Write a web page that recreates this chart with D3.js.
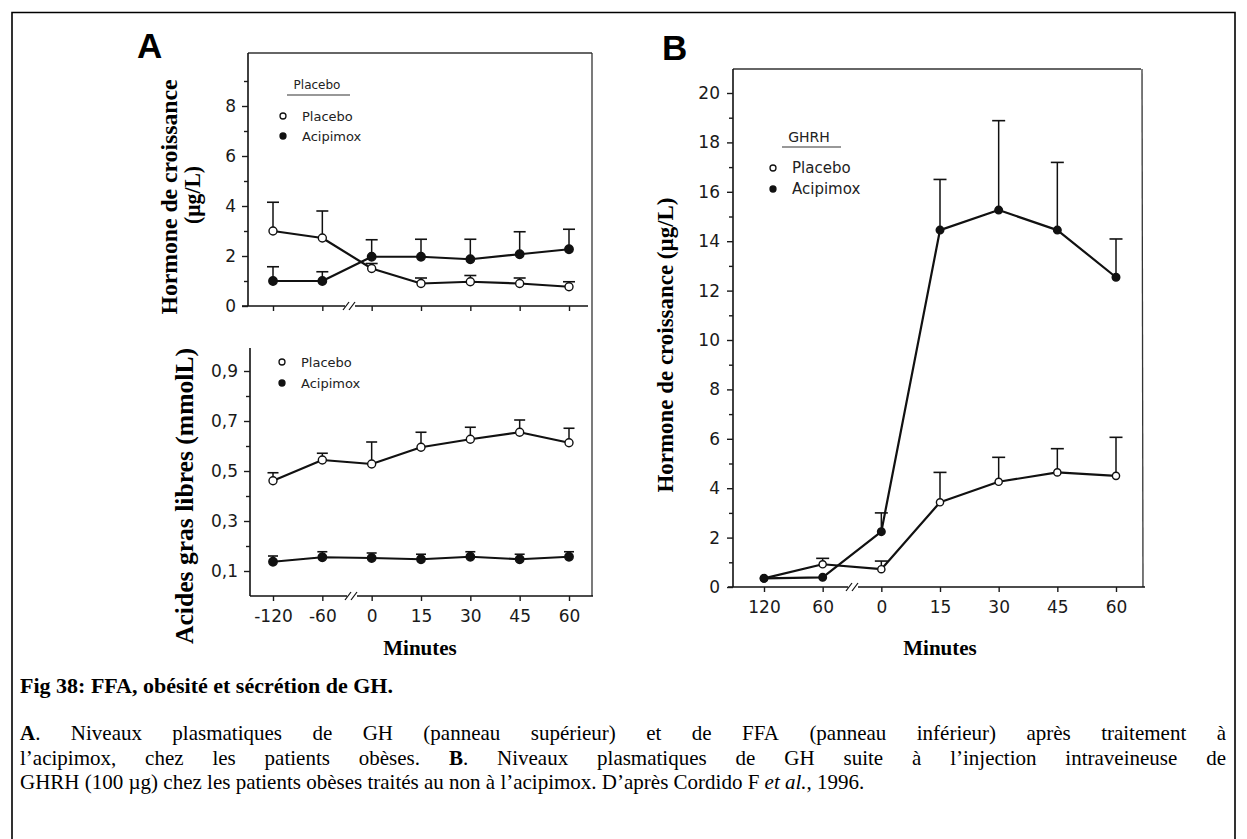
<!DOCTYPE html>
<html>
<head>
<meta charset="utf-8">
<script src="https://cdn.jsdelivr.net/npm/d3@7/dist/d3.min.js"></script>
<style>
  html, body { margin: 0; padding: 0; background: #fff; }
  svg { display: block; }
  .tick text { font-family: "DejaVu Sans", sans-serif; font-size: 17px; fill: #1a1a1a; }
  .tick line { stroke: #1a1a1a; stroke-width: 1.4; }
</style>
</head>
<body>
<svg id="fig" width="1247" height="839"></svg>
<script>
// ---- Data -------------------------------------------------------------
// Panel A: time points (minutes)
const xLabelsA = ["-120", "-60", "0", "15", "30", "45", "60"];
// Panel A, upper: growth hormone (µg/L), mean and SEM
const ghPlaceboA     = [3.0, 2.72, 1.5, 0.9, 0.97, 0.9, 0.77];
const ghPlaceboSeA   = [1.15, 1.08, 0.2, 0.22, 0.25, 0.22, 0.2];
const ghAcipimoxA    = [1.0, 1.0, 1.97, 1.97, 1.87, 2.07, 2.27];
const ghAcipimoxSeA  = [0.57, 0.37, 0.68, 0.7, 0.8, 0.9, 0.8];
// Panel A, lower: free fatty acids (mmol/L), mean and SEM
const ffaPlacebo     = [0.461, 0.544, 0.528, 0.595, 0.627, 0.655, 0.613];
const ffaPlaceboSe   = [0.032, 0.027, 0.088, 0.06, 0.048, 0.049, 0.058];
const ffaAcipimox    = [0.137, 0.155, 0.152, 0.147, 0.157, 0.147, 0.157];
const ffaAcipimoxSe  = [0.023, 0.022, 0.02, 0.02, 0.02, 0.02, 0.02];
// Panel B: GH response to GHRH
const xLabelsB = ["120", "60", "0", "15", "30", "45", "60"];
const ghPlaceboB     = [0.35, 0.92, 0.72, 3.43, 4.26, 4.64, 4.5];
const ghPlaceboSeB   = [0, 0.24, 0.33, 1.21, 0.99, 0.96, 1.56];
const ghAcipimoxB    = [0.35, 0.39, 2.24, 14.45, 15.26, 14.45, 12.54];
const ghAcipimoxSeB  = [0, 0, 0.76, 2.05, 3.62, 2.74, 1.55];
// Axis ticks
const ticksGhA  = [0, 2, 4, 6, 8];
const minorGhA  = [1, 3, 5, 7, 9];
const ticksFfa  = [0.1, 0.3, 0.5, 0.7, 0.9];
const minorFfa  = [0.2, 0.4, 0.6, 0.8];
const ticksGhB  = [0, 2, 4, 6, 8, 10, 12, 14, 16, 18, 20];
const minorGhB  = [1, 3, 5, 7, 9, 11, 13, 15, 17, 19];
const seriesNames = ["Placebo", "Acipimox"];

// ---- Setup ------------------------------------------------------------
const svg = d3.select("#fig");
const INK = "#111";
const commaFmt = d3.formatLocale({ decimal: ",", thousands: " ", grouping: [3], currency: ["", ""] }).format(".1f");
const serif = "'Liberation Serif', 'Times New Roman', serif";
const chartFont = "'DejaVu Sans', sans-serif";

// Outer frame of the figure
svg.append("path")
  .attr("d", "M12,839 L12,12.5 L1235,12.5 L1235,839")
  .attr("fill", "none").attr("stroke", "#000").attr("stroke-width", 1.6);

// Scales: the time axis is categorical (time points indexed in order,
// since "60" appears twice on panel B's axis)
const xA = d3.scalePoint().domain(d3.range(xLabelsA.length)).range([273, 569]);
const xB = d3.scalePoint().domain(d3.range(xLabelsB.length)).range([764, 1116]);
const yGhA = d3.scaleLinear().domain([0, 8]).range([306, 106]);
const yFfa = d3.scaleLinear().domain([0.1, 0.9]).range([571, 371]);
const yGhB = d3.scaleLinear().domain([0, 20]).range([587, 93]);

// ---- Helpers ------------------------------------------------------------
function line(x1, y1, x2, y2, w, color) {
  svg.append("line").attr("x1", x1).attr("y1", y1).attr("x2", x2).attr("y2", y2)
    .attr("stroke", color || INK).attr("stroke-width", w || 1.5);
}

function yAxis(scale, x, ticks, minor, fmt, pad) {
  const g = svg.append("g").attr("transform", `translate(${x},0)`)
    .call(d3.axisLeft(scale).tickValues(ticks).tickSize(6).tickPadding(pad).tickFormat(fmt));
  g.select(".domain").remove();
  const gm = svg.append("g").attr("transform", `translate(${x},0)`)
    .call(d3.axisLeft(scale).tickValues(minor).tickSize(4).tickFormat(""));
  gm.select(".domain").remove();
  gm.selectAll(".tick line").attr("stroke", "#555").attr("stroke-width", 1.1);
}

function xAxis(scale, labels, y, pad, showLabels) {
  const g = svg.append("g").attr("transform", `translate(0,${y})`)
    .call(d3.axisBottom(scale).tickSize(5).tickPadding(pad)
      .tickFormat(showLabels ? (i => labels[i]) : ""));
  g.select(".domain").remove();
}

function breakMark(x, y) {
  svg.append("rect").attr("x", x - 5).attr("y", y - 2).attr("width", 10).attr("height", 4).attr("fill", "#fff");
  line(x - 7, y + 4, x - 1, y - 4, 1.2);
  line(x - 1, y + 4, x + 5, y - 4, 1.2);
}

function series(xs, ys, vals, se, filled, r, capW) {
  const pts = vals.map((v, i) => [xs(i), ys(v), ys(v + se[i]), se[i]]);
  svg.append("path").datum(pts)
    .attr("d", d3.line().x(d => d[0]).y(d => d[1]))
    .attr("fill", "none").attr("stroke", INK).attr("stroke-width", 2.2).attr("stroke-linejoin", "round");
  pts.filter(d => d[3] > 0).forEach(d => {
    line(d[0], d[1], d[0], d[2], 1.5);
    line(d[0] - capW / 2, d[2], d[0] + capW / 2, d[2], 1.6);
  });
  svg.append("g").selectAll("circle").data(pts).join("circle")
    .attr("cx", d => d[0]).attr("cy", d => d[1]).attr("r", r)
    .attr("fill", filled ? INK : "#fff").attr("stroke", INK).attr("stroke-width", 1.4);
}

function legend(x, y, gap, size, title, titleX, titleY, ulX1, ulX2, ulY) {
  if (title) {
    svg.append("text").attr("x", titleX).attr("y", titleY).attr("text-anchor", "middle")
      .attr("font-family", chartFont).attr("font-size", size - 1).attr("fill", "#222").text(title);
    line(ulX1, ulY, ulX2, ulY, 1.2, "#333");
  }
  seriesNames.forEach((name, i) => {
    const cy = y + i * gap;
    svg.append("circle").attr("cx", x).attr("cy", cy).attr("r", 3)
      .attr("fill", i === 1 ? INK : "#fff").attr("stroke", INK).attr("stroke-width", 1.3);
    svg.append("text").attr("x", x + 19).attr("y", cy + 4.5)
      .attr("font-family", chartFont).attr("font-size", size).attr("fill", "#222").text(name);
  });
}

function vTitle(xb, yc, size, len, txt) {
  svg.append("text").attr("transform", `translate(${xb},${yc}) rotate(-90)`)
    .attr("text-anchor", "middle").attr("font-family", serif).attr("font-weight", "bold")
    .attr("font-size", size).attr("textLength", len).attr("lengthAdjust", "spacingAndGlyphs")
    .attr("fill", "#000").text(txt);
}

// ---- Panel A ------------------------------------------------------------
svg.append("text").attr("x", 137).attr("y", 58).attr("font-family", "'Liberation Sans', Arial, sans-serif")
  .attr("font-weight", "bold").attr("font-size", 35).text("A");

// frame: top line and shared right line
line(248, 53, 592, 53, 1.3, "#333");
line(592, 53, 592, 596, 1.3, "#333");

// upper: growth hormone
line(248, 53, 248, 306, 1.6);
line(242, 306, 588, 306, 1.6);
yAxis(yGhA, 248, ticksGhA, minorGhA, d3.format("d"), 6);
xAxis(xA, xLabelsA, 306, 9, false);
breakMark(350, 306);
series(xA, yGhA, ghPlaceboA, ghPlaceboSeA, false, 4, 12);
series(xA, yGhA, ghAcipimoxA, ghAcipimoxSeA, true, 4.2, 12);
legend(283, 116, 20, 13, "Placebo", 317, 89, 287, 350, 95);
vTitle(177, 197, 23, 235, "Hormone de croissance");
vTitle(200, 195, 23, 58, "(µg/L)");

// lower: free fatty acids
line(250, 348, 250, 596, 1.6);
line(250, 596, 593, 596, 1.6);
yAxis(yFfa, 250, ticksFfa, minorFfa, commaFmt, 6);
xAxis(xA, xLabelsA, 596, 9, true);
breakMark(352, 596);
series(xA, yFfa, ffaPlacebo, ffaPlaceboSe, false, 4, 11);
series(xA, yFfa, ffaAcipimox, ffaAcipimoxSe, true, 4.2, 10);
legend(282, 362, 21, 13);
vTitle(193, 496, 25, 296, "Acides gras libres (mmolL)");

svg.append("text").attr("x", 420).attr("y", 655).attr("text-anchor", "middle")
  .attr("font-family", serif).attr("font-weight", "bold").attr("font-size", 21).text("Minutes");

// ---- Panel B ------------------------------------------------------------
svg.append("text").attr("x", 662).attr("y", 60).attr("font-family", "'Liberation Sans', Arial, sans-serif")
  .attr("font-weight", "bold").attr("font-size", 35).text("B");

line(733, 69, 1141, 69, 1.3, "#333");
line(1142, 69, 1143, 587, 1.3, "#333");
line(733, 69, 733, 587, 1.6);
line(728, 587, 1145, 587, 1.6);
yAxis(yGhB, 733, ticksGhB, minorGhB, d3.format("d"), 7);
xAxis(xB, xLabelsB, 587, 9, true);
breakMark(853, 587);
series(xB, yGhB, ghPlaceboB, ghPlaceboSeB, false, 3.6, 13);
series(xB, yGhB, ghAcipimoxB, ghAcipimoxSeB, true, 3.8, 13);
legend(773, 168, 21, 15, "GHRH", 809, 142, 782, 841, 147);
vTitle(673, 345, 23, 295, "Hormone de croissance (µg/L)");

svg.append("text").attr("x", 940).attr("y", 655).attr("text-anchor", "middle")
  .attr("font-family", serif).attr("font-weight", "bold").attr("font-size", 21).text("Minutes");

// ---- Caption ------------------------------------------------------------
svg.append("text").attr("x", 20).attr("y", 693).attr("font-family", serif)
  .attr("font-weight", "bold").attr("font-size", 22).text("Fig 38: FFA, obésité et sécrétion de GH.");

// Each caption line is a list of styled segments; justified lines are laid
// out word by word so that the gaps spread the line to the right margin.
const captionLines = [
  { y: 740, justify: true, parts: [["A", "bold"], [". Niveaux plasmatiques de GH (panneau supérieur) et de FFA (panneau inférieur) après traitement à", ""]] },
  { y: 765, justify: true, parts: [["l’acipimox, chez les patients obèses. ", ""], ["B", "bold"], [". Niveaux plasmatiques de GH suite à l’injection intraveineuse de", ""]] },
  { y: 789, justify: false, parts: [["GHRH (100 µg) chez les patients obèses traités au non à l’acipimox. D’après Cordido F ", ""], ["et al.", "italic"], [", 1996.", ""]] }
];
const captionLeft = 20, captionRight = 1226, captionSize = 21;

function styleSpan(s, style) {
  if (style === "bold") s.attr("font-weight", "bold");
  if (style === "italic") s.attr("font-style", "italic");
}

// split styled segments into words, each word a list of [text, style]
function toWords(parts) {
  const words = [[]];
  parts.forEach(([txt, style]) => {
    txt.split(" ").forEach((piece, k) => {
      if (k > 0) words.push([]);
      if (piece) words[words.length - 1].push([piece, style]);
    });
  });
  return words.filter(w => w.length);
}

captionLines.forEach(cl => {
  const t = svg.append("text").attr("y", cl.y)
    .attr("font-family", serif).attr("font-size", captionSize).attr("fill", "#000");
  if (!cl.justify) {
    t.attr("x", captionLeft);
    cl.parts.forEach(([txt, style]) => styleSpan(t.append("tspan").text(txt), style));
    return;
  }
  const words = toWords(cl.parts);
  // measure each word
  const widths = words.map(w => {
    const m = svg.append("text").attr("font-family", serif).attr("font-size", captionSize);
    w.forEach(([txt, style]) => styleSpan(m.append("tspan").text(txt), style));
    const wd = m.node().getComputedTextLength();
    m.remove();
    return wd;
  });
  const gap = (captionRight - captionLeft - d3.sum(widths)) / (words.length - 1);
  let x = captionLeft;
  words.forEach((w, i) => {
    const wg = t.append("tspan").attr("x", x);
    w.forEach(([txt, style]) => styleSpan(wg.append("tspan").text(txt), style));
    x += widths[i] + gap;
  });
});
</script>
</body>
</html>
